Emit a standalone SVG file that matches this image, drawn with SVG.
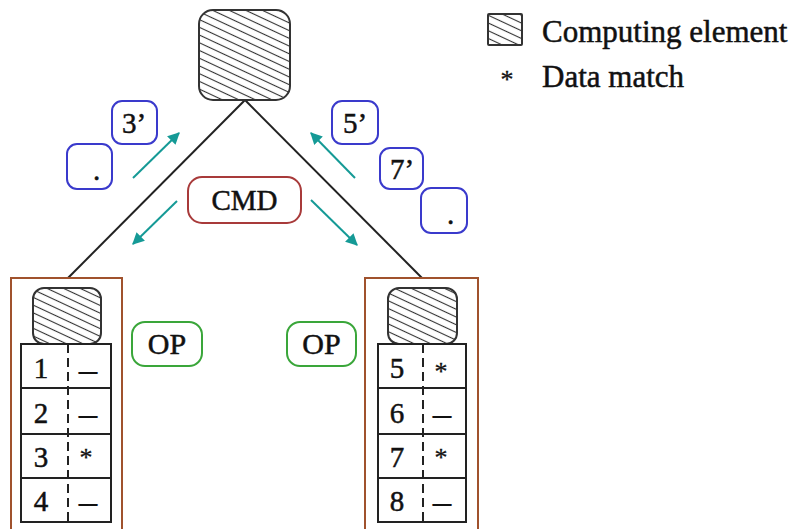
<svg xmlns="http://www.w3.org/2000/svg" width="796" height="529" viewBox="0 0 796 529">
  <defs>
    <pattern id="hatch" patternUnits="userSpaceOnUse" width="12" height="7" patternTransform="rotate(25)">
      <rect width="12" height="7" fill="#fff"/>
      <line x1="0" y1="3.5" x2="12" y2="3.5" stroke="#333" stroke-width="1.1"/>
    </pattern>
    <marker id="arr" viewBox="0 0 10 10" refX="9" refY="5" markerWidth="6.5" markerHeight="6" orient="auto" markerUnits="strokeWidth">
      <path d="M0,0 L10,5 L0,10 z" fill="#159a96"/>
    </marker>
  </defs>
  <style>
    text { font-family: "Liberation Serif", "Times New Roman", serif; fill: #111; stroke: #111; stroke-width: 0.5; }
    .ce { fill: url(#hatch); stroke: #333; stroke-width: 2; }
    .cell { fill: #fff; stroke: #222; stroke-width: 2; }
    .div { stroke: #222; stroke-width: 2; stroke-dasharray: 9 5; }
    .pe { fill: none; stroke: #a0522d; stroke-width: 2; }
    .msg { fill: #fff; stroke: #3a3acc; stroke-width: 2; }
    .op { fill: #fff; stroke: #3aa63a; stroke-width: 2; }
    .cmd { fill: #fff; stroke: #a83a3a; stroke-width: 2; }
    .flow { stroke: #159a96; stroke-width: 2; marker-end: url(#arr); }
    .lbl { font-size: 29px; }
    .big { font-size: 30px; }
    .leg { font-size: 31px; }
    .dash { font-size: 37px; stroke-width: 0.2; }
    .star { font-size: 26px; stroke-width: 0.3; }
  </style>

  <!-- tree links and message flow arrows -->
  <g id="connectors">
    <line x1="245" y1="100" x2="68" y2="278" stroke="#222" stroke-width="2"/>
    <line x1="245" y1="100" x2="422" y2="278" stroke="#222" stroke-width="2"/>
    <line class="flow" x1="133" y1="178" x2="179" y2="133"/>
    <line class="flow" x1="355" y1="178" x2="311" y2="133"/>
    <line class="flow" x1="177" y1="201" x2="133" y2="244"/>
    <line class="flow" x1="311" y1="200" x2="357" y2="245"/>
  </g>

  <!-- root computing element -->
  <g id="root">
    <rect class="ce" x="199" y="10" width="91" height="90" rx="14"/>
  </g>

  <!-- legend -->
  <g id="legend">
    <rect class="ce" x="488" y="14" width="34" height="31" rx="1" stroke-width="1.5"/>
    <text class="leg" x="542" y="42">Computing element</text>
    <text class="star" x="507" y="88" text-anchor="middle">*</text>
    <text class="leg" x="542" y="87">Data match</text>
  </g>

  <!-- upward result messages -->
  <g id="msg-3">
    <rect class="msg" x="112" y="101" width="45" height="43" rx="10"/>
    <text class="lbl" x="134" y="133" text-anchor="middle">3’</text>
  </g>
  <g id="msg-dot-left">
    <rect class="msg" x="67" y="144" width="45" height="45" rx="10"/>
    <text class="lbl" x="93" y="180">.</text>
  </g>
  <g id="msg-5">
    <rect class="msg" x="332" y="101" width="46" height="43" rx="10"/>
    <text class="lbl" x="355" y="133" text-anchor="middle">5’</text>
  </g>
  <g id="msg-7">
    <rect class="msg" x="380" y="148" width="43" height="41" rx="10"/>
    <text class="lbl" x="402" y="179" text-anchor="middle">7’</text>
  </g>
  <g id="msg-dot-right">
    <rect class="msg" x="421" y="188" width="46" height="45" rx="10"/>
    <text class="lbl" x="447" y="224">.</text>
  </g>

  <!-- broadcast command -->
  <g id="cmd">
    <rect class="cmd" x="188" y="177" width="113" height="46" rx="14"/>
    <text class="lbl" x="244.5" y="210" text-anchor="middle">CMD</text>
  </g>

  <!-- operation labels -->
  <g id="op-left">
    <rect class="op" x="132" y="322" width="70" height="44" rx="13"/>
    <text class="big" x="167" y="354" text-anchor="middle">OP</text>
  </g>
  <g id="op-right">
    <rect class="op" x="287" y="322" width="69" height="44" rx="13"/>
    <text class="big" x="321.5" y="354" text-anchor="middle">OP</text>
  </g>

  <!-- left processing element -->
  <g id="pe-left">
    <rect class="pe" x="11" y="278" width="111" height="260"/>
    <rect class="ce" x="33" y="288" width="68" height="56" rx="11"/>
    <rect class="cell" x="21" y="344" width="90" height="44"/>
    <rect class="cell" x="21" y="388" width="90" height="46"/>
    <rect class="cell" x="21" y="434" width="90" height="44"/>
    <rect class="cell" x="21" y="478" width="90" height="44"/>
    <line class="div" x1="68" y1="344" x2="68" y2="522"/>
    <text class="lbl" x="41" y="378" text-anchor="middle">1</text>
    <text class="lbl" x="41" y="423" text-anchor="middle">2</text>
    <text class="lbl" x="41" y="467" text-anchor="middle">3</text>
    <text class="lbl" x="41" y="511" text-anchor="middle">4</text>
    <text class="dash" x="88" y="382" text-anchor="middle">–</text>
    <text class="dash" x="88" y="426" text-anchor="middle">–</text>
    <text class="star" x="86" y="466" text-anchor="middle">*</text>
    <text class="dash" x="88" y="514" text-anchor="middle">–</text>
  </g>

  <!-- right processing element -->
  <g id="pe-right">
    <rect class="pe" x="365" y="278" width="113" height="260"/>
    <rect class="ce" x="388" y="288" width="69" height="56" rx="11"/>
    <rect class="cell" x="378" y="344" width="88" height="44"/>
    <rect class="cell" x="378" y="388" width="88" height="46"/>
    <rect class="cell" x="378" y="434" width="88" height="44"/>
    <rect class="cell" x="378" y="478" width="88" height="44"/>
    <line class="div" x1="423" y1="344" x2="423" y2="522"/>
    <text class="lbl" x="397" y="378" text-anchor="middle">5</text>
    <text class="lbl" x="397" y="423" text-anchor="middle">6</text>
    <text class="lbl" x="397" y="467" text-anchor="middle">7</text>
    <text class="lbl" x="397" y="511" text-anchor="middle">8</text>
    <text class="star" x="441" y="380" text-anchor="middle">*</text>
    <text class="dash" x="442" y="426" text-anchor="middle">–</text>
    <text class="star" x="441" y="466" text-anchor="middle">*</text>
    <text class="dash" x="442" y="514" text-anchor="middle">–</text>
  </g>
</svg>
